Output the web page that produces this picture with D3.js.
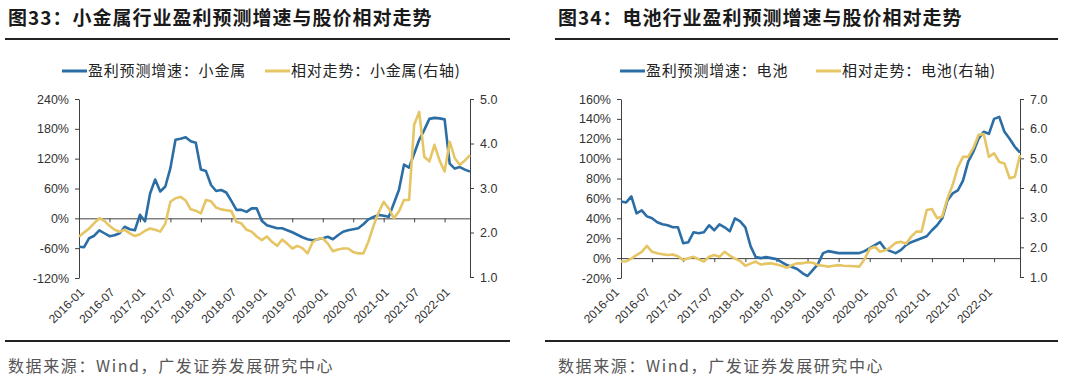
<!DOCTYPE html>
<html>
<head>
<meta charset="utf-8">
<script src="https://cdn.jsdelivr.net/npm/d3@7/dist/d3.min.js"></script>
<style>
  html, body { margin: 0; padding: 0; background: #fff; }
  svg { display: block; }
</style>
</head>
<body>
<div id="chart"></div>
<script>
// monthly categories 2016-01 .. 2022-06
var months = d3.range(78).map(function(i) {
  return (2016 + Math.floor(i / 12)) + "-" + String(i % 12 + 1).padStart(2, "0");
});
var xTickLabels = ["2016-01","2016-07","2017-01","2017-07","2018-01","2018-07","2019-01",
                   "2019-07","2020-01","2020-07","2021-01","2021-07","2022-01"];

// 图33 小金属
var metalGrowth = [-57,-58,-40,-35,-24,-30,-36,-34,-30,-17,-22,-24,7,-6,50,78,54,64,101,158,
                   160,163,155,152,98,95,67,55,57,52,35,17,17,13,20,20,-5,-14,-17,-20,
                   -20,-24,-28,-33,-38,-42,-44,-42,-40,-37,-42,-34,-27,-24,-22,-20,-12,-2,3,7,
                   5,3,30,57,108,102,130,158,178,200,202,201,199,110,100,103,98,94];
var metalRel = [1.91,2.00,2.09,2.21,2.32,2.26,2.15,2.06,2.02,2.06,1.98,1.92,1.96,2.04,2.09,2.06,2.02,2.20,2.69,2.77,
                2.80,2.72,2.52,2.49,2.43,2.73,2.70,2.56,2.52,2.50,2.48,2.24,2.20,2.06,2.02,1.91,1.83,1.91,1.79,1.70,
                1.84,1.75,1.64,1.70,1.65,1.53,1.78,1.86,1.87,1.75,1.58,1.62,1.64,1.64,1.56,1.53,1.53,1.80,2.15,2.45,
                2.69,2.54,2.32,2.47,2.73,2.73,4.42,4.71,3.70,3.60,3.97,3.62,3.37,4.04,3.67,3.52,3.62,3.74];
var metalLeftTicks = [-120,-60,0,60,120,180,240];
var metalRightTicks = [1,2,3,4,5];

// 图34 电池
var batteryGrowth = [57,56,62,45,48,42,40,36,34,33,31,31,15,16,26,25,26,33,28,34,
                     31,27,40,37,31,12,1,0,1,0,-1,-4,-7,-9,-11,-15,-18,-12,-6,5,
                     7,6,5,5,5,5,5,7,10,13,16,9,7,5,8,13,16,18,20,22,
                     28,33,40,58,65,68,78,97,107,120,127,125,140,142,127,120,112,106];
var batteryRel = [1.52,1.53,1.62,1.74,1.85,2.05,1.85,1.80,1.77,1.74,1.76,1.70,1.57,1.63,1.68,1.60,1.52,1.68,1.74,1.68,
                  1.85,1.72,1.62,1.54,1.38,1.45,1.52,1.42,1.45,1.46,1.42,1.38,1.31,1.40,1.46,1.46,1.50,1.48,1.40,1.38,
                  1.35,1.38,1.40,1.38,1.37,1.36,1.35,1.60,1.95,2.02,1.85,1.90,2.00,2.15,2.19,2.12,2.36,2.53,2.53,3.26,
                  3.29,2.98,3.04,3.65,4.10,4.70,5.05,5.05,5.35,5.79,5.82,5.05,5.17,4.88,4.83,4.33,4.38,5.11];
var batteryLeftTicks = [-20,0,20,40,60,80,100,120,140,160];
var batteryRightTicks = [1,2,3,4,5,6,7];

var blue = "#2b6ea6", gold = "#e6c565", axisColor = "#404040";
var cjk = "'Noto Sans CJK SC', sans-serif", latin = "'Liberation Sans', Arial, sans-serif";

var svg = d3.select("#chart").append("svg")
    .attr("width", 1080)
    .attr("height", 383);

svg.append("rect").attr("width", 1080).attr("height", 383).attr("fill", "#fff");

function drawChart(c) {
  var g = svg.append("g");

  // title + rules
  g.append("text")
      .attr("x", c.titleX).attr("y", 25)
      .style("font-family", cjk).style("font-size", "19px").style("font-weight", "bold")
      .style("letter-spacing", "1px")
      .attr("fill", "#1a1a1a")
      .text(c.title);
  g.append("line").attr("x1", c.ruleX1).attr("x2", c.ruleX2).attr("y1", 39).attr("y2", 39)
      .attr("stroke", "#222").attr("stroke-width", 2);
  g.append("line").attr("x1", c.ruleX0b).attr("x2", c.ruleX2).attr("y1", 341).attr("y2", 341)
      .attr("stroke", "#222").attr("stroke-width", 2);
  g.append("text")
      .attr("x", c.titleX).attr("y", 372)
      .style("font-family", cjk).style("font-size", "16px")
      .style("letter-spacing", "1.6px")
      .attr("fill", "#555")
      .text("数据来源：Wind，广发证券发展研究中心");

  var x = d3.scalePoint().domain(months).range([c.x0, c.x1]);
  var yL = d3.scaleLinear().domain(c.leftDomain).range([278, 99]);
  var yR = d3.scaleLinear().domain(c.rightDomain).range([277, 99]);

  // left axis
  var la = g.append("g").attr("transform", "translate(" + c.x0 + ",0)")
      .call(d3.axisLeft(yL).tickValues(c.leftTicks).tickSize(4).tickSizeOuter(0)
        .tickFormat(function(d) { return d + "%"; }));
  // right axis
  var ra = g.append("g").attr("transform", "translate(" + c.x1 + ",0)")
      .call(d3.axisRight(yR).tickValues(c.rightTicks).tickSize(4).tickSizeOuter(0)
        .tickFormat(d3.format(".1f")));
  [la, ra].forEach(function(a) {
    a.select(".domain").attr("stroke", axisColor);
    a.selectAll(".tick line").attr("stroke", axisColor);
    a.selectAll(".tick text").attr("fill", "#333")
        .style("font-family", latin).style("font-size", "12.5px");
  });
  la.selectAll(".tick text").attr("x", -10);
  ra.selectAll(".tick text").attr("x", 10);

  // x axis on zero line
  var xa = g.append("g").attr("transform", "translate(0," + yL(0) + ")")
      .call(d3.axisBottom(x).tickValues(xTickLabels).tickSize(4).tickSizeOuter(0).tickFormat(""));
  xa.select(".domain").attr("stroke", axisColor);
  xa.selectAll(".tick line").attr("stroke", axisColor);

  g.selectAll("text.xlab")
      .data(xTickLabels)
      .enter().append("text")
      .attr("class", "xlab")
      .attr("transform", function(d) { return "translate(" + (x(d) + c.labShift) + ",290) rotate(-45)"; })
      .attr("text-anchor", "end")
      .attr("dy", "0.35em")
      .attr("fill", "#333")
      .style("font-family", latin).style("font-size", "12px")
      .text(function(d) { return d; });

  // lines
  var lineL = d3.line().x(function(d, i) { return x(months[i]); }).y(function(d) { return yL(d); });
  var lineR = d3.line().x(function(d, i) { return x(months[i]); }).y(function(d) { return yR(d); });

  g.append("path").datum(c.growth)
      .attr("d", lineL).attr("fill", "none")
      .attr("stroke", blue).attr("stroke-width", 2.6).attr("stroke-linejoin", "round");
  g.append("path").datum(c.rel)
      .attr("d", lineR).attr("fill", "none")
      .attr("stroke", gold).attr("stroke-width", 2.6).attr("stroke-linejoin", "round");

  // legend
  var leg = g.selectAll("g.leg")
      .data([{x: c.leg1, color: blue, label: c.leg1Text}, {x: c.leg2, color: gold, label: c.leg2Text}])
      .enter().append("g").attr("class", "leg")
      .attr("transform", function(d) { return "translate(" + d.x + ",71)"; });
  leg.append("line").attr("x1", 0).attr("x2", 25).attr("y1", 0).attr("y2", 0)
      .attr("stroke", function(d) { return d.color; }).attr("stroke-width", 3);
  leg.append("text").attr("x", 26).attr("dy", "0.35em")
      .style("font-family", cjk).style("font-size", "15px").style("letter-spacing", "0.8px")
      .attr("fill", "#222")
      .text(function(d) { return d.label; });
}

drawChart({
  title: "图33：小金属行业盈利预测增速与股价相对走势",
  titleX: 8, ruleX1: 5, ruleX0b: 5, ruleX2: 510,
  x0: 79, x1: 470, labShift: 3,
  leftDomain: [-120, 240], rightDomain: [1, 5],
  leftTicks: metalLeftTicks, rightTicks: metalRightTicks,
  growth: metalGrowth, rel: metalRel,
  leg1: 62, leg2: 265,
  leg1Text: "盈利预测增速：小金属", leg2Text: "相对走势：小金属(右轴)"
});

drawChart({
  title: "图34：电池行业盈利预测增速与股价相对走势",
  titleX: 558, ruleX1: 555, ruleX0b: 545, ruleX2: 1058,
  x0: 621, x1: 1020, labShift: -4,
  leftDomain: [-20, 160], rightDomain: [1, 7],
  leftTicks: batteryLeftTicks, rightTicks: batteryRightTicks,
  growth: batteryGrowth, rel: batteryRel,
  leg1: 620, leg2: 816,
  leg1Text: "盈利预测增速：电池", leg2Text: "相对走势：电池(右轴)"
});
</script>
</body>
</html>
